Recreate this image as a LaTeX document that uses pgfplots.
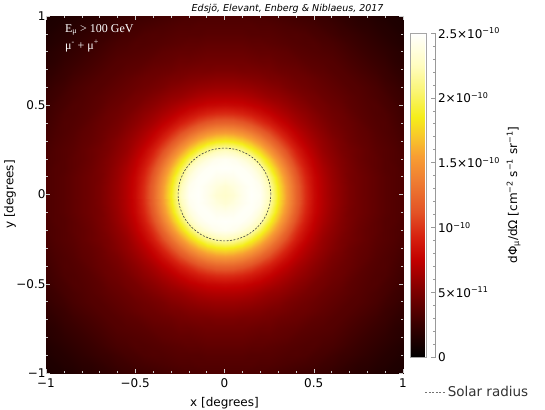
\documentclass[border=0pt]{standalone}
\usepackage{fontspec}
\setmainfont{DejaVu Sans}
\newfontfamily\timesfont{Liberation Serif}
\usepackage{pgfplots}
\usepackage{pgfplotstable}
\pgfplotsset{compat=1.18}

% hot-like colour scale
\pgfplotsset{colormap={sunhot}{rgb(0pt)=(0,0,0); rgb(10pt)=(0.22,0,0); rgb(20pt)=(0.48,0,0);
  rgb(30pt)=(0.76,0,0); rgb(37pt)=(0.84,0.13,0.06); rgb(45pt)=(0.89,0.33,0.15);
  rgb(55pt)=(0.94,0.5,0.2); rgb(62pt)=(0.97,0.62,0.2); rgb(68pt)=(0.97,0.78,0.17);
  rgb(74pt)=(0.96,0.93,0.1); rgb(82pt)=(0.98,0.96,0.45); rgb(90pt)=(1,0.99,0.75);
  rgb(100pt)=(1,1,1)}}

% flux in units of 1e-10 cm^-2 s^-1 sr^-1, one quadrant (x,y >= 0), 0.05 deg grid
\pgfplotstableread[row sep=\\]{
x y v\\
0 0 2.30\\ 0.05 0 2.33\\ 0.1 0 2.42\\ 0.15 0 2.48\\ 0.2 0 2.45\\ 0.25 0 2.25\\ 0.3 0 1.85\\ 0.35 0 1.52\\ 0.4 0 1.22\\ 0.45 0 0.98\\ 0.5 0 0.80\\ 0.55 0 0.69\\ 0.6 0 0.61\\ 0.65 0 0.55\\ 0.7 0 0.50\\ 0.75 0 0.46\\ 0.8 0 0.43\\ 0.85 0 0.40\\ 0.9 0 0.37\\ 0.95 0 0.35\\ 1 0 0.33\\
0 0.05 2.33\\ 0.05 0.05 2.37\\ 0.1 0.05 2.43\\ 0.15 0.05 2.47\\ 0.2 0.05 2.43\\ 0.25 0.05 2.21\\ 0.3 0.05 1.82\\ 0.35 0.05 1.50\\ 0.4 0.05 1.21\\ 0.45 0.05 0.97\\ 0.5 0.05 0.79\\ 0.55 0.05 0.69\\ 0.6 0.05 0.61\\ 0.65 0.05 0.55\\ 0.7 0.05 0.50\\ 0.75 0.05 0.46\\ 0.8 0.05 0.43\\ 0.85 0.05 0.40\\ 0.9 0.05 0.37\\ 0.95 0.05 0.35\\ 1 0.05 0.33\\
0 0.1 2.42\\ 0.05 0.1 2.43\\ 0.1 0.1 2.47\\ 0.15 0.1 2.46\\ 0.2 0.1 2.36\\ 0.25 0.1 2.10\\ 0.3 0.1 1.74\\ 0.35 0.1 1.44\\ 0.4 0.1 1.16\\ 0.45 0.1 0.94\\ 0.5 0.1 0.78\\ 0.55 0.1 0.68\\ 0.6 0.1 0.60\\ 0.65 0.1 0.54\\ 0.7 0.1 0.49\\ 0.75 0.1 0.46\\ 0.8 0.1 0.43\\ 0.85 0.1 0.40\\ 0.9 0.1 0.37\\ 0.95 0.1 0.35\\ 1 0.1 0.33\\
0 0.15 2.48\\ 0.05 0.15 2.47\\ 0.1 0.15 2.46\\ 0.15 0.15 2.40\\ 0.2 0.15 2.25\\ 0.25 0.15 1.92\\ 0.3 0.15 1.62\\ 0.35 0.15 1.34\\ 0.4 0.15 1.09\\ 0.45 0.15 0.89\\ 0.5 0.15 0.75\\ 0.55 0.15 0.66\\ 0.6 0.15 0.59\\ 0.65 0.15 0.53\\ 0.7 0.15 0.49\\ 0.75 0.15 0.45\\ 0.8 0.15 0.42\\ 0.85 0.15 0.39\\ 0.9 0.15 0.36\\ 0.95 0.15 0.35\\ 1 0.15 0.32\\
0 0.2 2.45\\ 0.05 0.2 2.43\\ 0.1 0.2 2.36\\ 0.15 0.2 2.25\\ 0.2 0.2 1.99\\ 0.25 0.2 1.72\\ 0.3 0.2 1.46\\ 0.35 0.2 1.21\\ 0.4 0.2 0.99\\ 0.45 0.2 0.83\\ 0.5 0.2 0.72\\ 0.55 0.2 0.63\\ 0.6 0.2 0.57\\ 0.65 0.2 0.52\\ 0.7 0.2 0.48\\ 0.75 0.2 0.44\\ 0.8 0.2 0.41\\ 0.85 0.2 0.39\\ 0.9 0.2 0.36\\ 0.95 0.2 0.34\\ 1 0.2 0.32\\
0 0.25 2.25\\ 0.05 0.25 2.21\\ 0.1 0.25 2.10\\ 0.15 0.25 1.92\\ 0.2 0.25 1.72\\ 0.25 0.25 1.50\\ 0.3 0.25 1.28\\ 0.35 0.25 1.08\\ 0.4 0.25 0.90\\ 0.45 0.25 0.77\\ 0.5 0.25 0.68\\ 0.55 0.25 0.60\\ 0.6 0.25 0.55\\ 0.65 0.25 0.50\\ 0.7 0.25 0.47\\ 0.75 0.25 0.44\\ 0.8 0.25 0.41\\ 0.85 0.25 0.38\\ 0.9 0.25 0.36\\ 0.95 0.25 0.34\\ 1 0.25 0.31\\
0 0.3 1.85\\ 0.05 0.3 1.82\\ 0.1 0.3 1.74\\ 0.15 0.3 1.62\\ 0.2 0.3 1.46\\ 0.25 0.3 1.28\\ 0.3 0.3 1.10\\ 0.35 0.3 0.94\\ 0.4 0.3 0.80\\ 0.45 0.3 0.71\\ 0.5 0.3 0.64\\ 0.55 0.3 0.58\\ 0.6 0.3 0.53\\ 0.65 0.3 0.49\\ 0.7 0.3 0.45\\ 0.75 0.3 0.42\\ 0.8 0.3 0.40\\ 0.85 0.3 0.37\\ 0.9 0.3 0.35\\ 0.95 0.3 0.33\\ 1 0.3 0.30\\
0 0.35 1.52\\ 0.05 0.35 1.50\\ 0.1 0.35 1.44\\ 0.15 0.35 1.34\\ 0.2 0.35 1.21\\ 0.25 0.35 1.08\\ 0.3 0.35 0.94\\ 0.35 0.35 0.82\\ 0.4 0.35 0.73\\ 0.45 0.35 0.66\\ 0.5 0.35 0.60\\ 0.55 0.35 0.55\\ 0.6 0.35 0.50\\ 0.65 0.35 0.47\\ 0.7 0.35 0.44\\ 0.75 0.35 0.41\\ 0.8 0.35 0.39\\ 0.85 0.35 0.36\\ 0.9 0.35 0.34\\ 0.95 0.35 0.32\\ 1 0.35 0.29\\
0 0.4 1.22\\ 0.05 0.4 1.21\\ 0.1 0.4 1.16\\ 0.15 0.4 1.09\\ 0.2 0.4 0.99\\ 0.25 0.4 0.90\\ 0.3 0.4 0.80\\ 0.35 0.4 0.73\\ 0.4 0.4 0.66\\ 0.45 0.4 0.61\\ 0.5 0.4 0.56\\ 0.55 0.4 0.52\\ 0.6 0.4 0.48\\ 0.65 0.4 0.45\\ 0.7 0.4 0.43\\ 0.75 0.4 0.40\\ 0.8 0.4 0.37\\ 0.85 0.4 0.35\\ 0.9 0.4 0.34\\ 0.95 0.4 0.31\\ 1 0.4 0.28\\
0 0.45 0.98\\ 0.05 0.45 0.97\\ 0.1 0.45 0.94\\ 0.15 0.45 0.89\\ 0.2 0.45 0.83\\ 0.25 0.45 0.77\\ 0.3 0.45 0.71\\ 0.35 0.45 0.66\\ 0.4 0.45 0.61\\ 0.45 0.45 0.57\\ 0.5 0.45 0.53\\ 0.55 0.45 0.49\\ 0.6 0.45 0.46\\ 0.65 0.45 0.44\\ 0.7 0.45 0.41\\ 0.75 0.45 0.38\\ 0.8 0.45 0.36\\ 0.85 0.45 0.34\\ 0.9 0.45 0.33\\ 0.95 0.45 0.30\\ 1 0.45 0.27\\
0 0.5 0.80\\ 0.05 0.5 0.79\\ 0.1 0.5 0.78\\ 0.15 0.5 0.75\\ 0.2 0.5 0.72\\ 0.25 0.5 0.68\\ 0.3 0.5 0.64\\ 0.35 0.5 0.60\\ 0.4 0.5 0.56\\ 0.45 0.5 0.53\\ 0.5 0.5 0.49\\ 0.55 0.5 0.47\\ 0.6 0.5 0.44\\ 0.65 0.5 0.42\\ 0.7 0.5 0.39\\ 0.75 0.5 0.37\\ 0.8 0.5 0.35\\ 0.85 0.5 0.34\\ 0.9 0.5 0.31\\ 0.95 0.5 0.29\\ 1 0.5 0.26\\
0 0.55 0.69\\ 0.05 0.55 0.69\\ 0.1 0.55 0.68\\ 0.15 0.55 0.66\\ 0.2 0.55 0.63\\ 0.25 0.55 0.60\\ 0.3 0.55 0.58\\ 0.35 0.55 0.55\\ 0.4 0.55 0.52\\ 0.45 0.55 0.49\\ 0.5 0.55 0.47\\ 0.55 0.55 0.44\\ 0.6 0.55 0.42\\ 0.65 0.55 0.40\\ 0.7 0.55 0.38\\ 0.75 0.55 0.36\\ 0.8 0.55 0.34\\ 0.85 0.55 0.32\\ 0.9 0.55 0.30\\ 0.95 0.55 0.27\\ 1 0.55 0.25\\
0 0.6 0.61\\ 0.05 0.6 0.61\\ 0.1 0.6 0.60\\ 0.15 0.6 0.59\\ 0.2 0.6 0.57\\ 0.25 0.6 0.55\\ 0.3 0.6 0.53\\ 0.35 0.6 0.50\\ 0.4 0.6 0.48\\ 0.45 0.6 0.46\\ 0.5 0.6 0.44\\ 0.55 0.6 0.42\\ 0.6 0.6 0.40\\ 0.65 0.6 0.38\\ 0.7 0.6 0.36\\ 0.75 0.6 0.35\\ 0.8 0.6 0.33\\ 0.85 0.6 0.31\\ 0.9 0.6 0.28\\ 0.95 0.6 0.26\\ 1 0.6 0.23\\
0 0.65 0.55\\ 0.05 0.65 0.55\\ 0.1 0.65 0.54\\ 0.15 0.65 0.53\\ 0.2 0.65 0.52\\ 0.25 0.65 0.50\\ 0.3 0.65 0.49\\ 0.35 0.65 0.47\\ 0.4 0.65 0.45\\ 0.45 0.65 0.44\\ 0.5 0.65 0.42\\ 0.55 0.65 0.40\\ 0.6 0.65 0.38\\ 0.65 0.65 0.36\\ 0.7 0.65 0.35\\ 0.75 0.65 0.33\\ 0.8 0.65 0.31\\ 0.85 0.65 0.29\\ 0.9 0.65 0.26\\ 0.95 0.65 0.24\\ 1 0.65 0.21\\
0 0.7 0.50\\ 0.05 0.7 0.50\\ 0.1 0.7 0.49\\ 0.15 0.7 0.49\\ 0.2 0.7 0.48\\ 0.25 0.7 0.47\\ 0.3 0.7 0.45\\ 0.35 0.7 0.44\\ 0.4 0.7 0.43\\ 0.45 0.7 0.41\\ 0.5 0.7 0.39\\ 0.55 0.7 0.38\\ 0.6 0.7 0.36\\ 0.65 0.7 0.35\\ 0.7 0.7 0.33\\ 0.75 0.7 0.31\\ 0.8 0.7 0.29\\ 0.85 0.7 0.27\\ 0.9 0.7 0.25\\ 0.95 0.7 0.22\\ 1 0.7 0.20\\
0 0.75 0.46\\ 0.05 0.75 0.46\\ 0.1 0.75 0.46\\ 0.15 0.75 0.45\\ 0.2 0.75 0.44\\ 0.25 0.75 0.44\\ 0.3 0.75 0.42\\ 0.35 0.75 0.41\\ 0.4 0.75 0.40\\ 0.45 0.75 0.38\\ 0.5 0.75 0.37\\ 0.55 0.75 0.36\\ 0.6 0.75 0.35\\ 0.65 0.75 0.33\\ 0.7 0.75 0.31\\ 0.75 0.75 0.29\\ 0.8 0.75 0.27\\ 0.85 0.75 0.25\\ 0.9 0.75 0.23\\ 0.95 0.75 0.20\\ 1 0.75 0.18\\
0 0.8 0.43\\ 0.05 0.8 0.43\\ 0.1 0.8 0.43\\ 0.15 0.8 0.42\\ 0.2 0.8 0.41\\ 0.25 0.8 0.41\\ 0.3 0.8 0.40\\ 0.35 0.8 0.39\\ 0.4 0.8 0.37\\ 0.45 0.8 0.36\\ 0.5 0.8 0.35\\ 0.55 0.8 0.34\\ 0.6 0.8 0.33\\ 0.65 0.8 0.31\\ 0.7 0.8 0.29\\ 0.75 0.8 0.27\\ 0.8 0.8 0.25\\ 0.85 0.8 0.23\\ 0.9 0.8 0.21\\ 0.95 0.8 0.19\\ 1 0.8 0.17\\
0 0.85 0.40\\ 0.05 0.85 0.40\\ 0.1 0.85 0.40\\ 0.15 0.85 0.39\\ 0.2 0.85 0.39\\ 0.25 0.85 0.38\\ 0.3 0.85 0.37\\ 0.35 0.85 0.36\\ 0.4 0.85 0.35\\ 0.45 0.85 0.34\\ 0.5 0.85 0.34\\ 0.55 0.85 0.32\\ 0.6 0.85 0.31\\ 0.65 0.85 0.29\\ 0.7 0.85 0.27\\ 0.75 0.85 0.25\\ 0.8 0.85 0.23\\ 0.85 0.85 0.21\\ 0.9 0.85 0.19\\ 0.95 0.85 0.17\\ 1 0.85 0.15\\
0 0.9 0.37\\ 0.05 0.9 0.37\\ 0.1 0.9 0.37\\ 0.15 0.9 0.36\\ 0.2 0.9 0.36\\ 0.25 0.9 0.36\\ 0.3 0.9 0.35\\ 0.35 0.9 0.34\\ 0.4 0.9 0.34\\ 0.45 0.9 0.33\\ 0.5 0.9 0.31\\ 0.55 0.9 0.30\\ 0.6 0.9 0.28\\ 0.65 0.9 0.26\\ 0.7 0.9 0.25\\ 0.75 0.9 0.23\\ 0.8 0.9 0.21\\ 0.85 0.9 0.19\\ 0.9 0.9 0.17\\ 0.95 0.9 0.16\\ 1 0.9 0.14\\
0 0.95 0.35\\ 0.05 0.95 0.35\\ 0.1 0.95 0.35\\ 0.15 0.95 0.35\\ 0.2 0.95 0.34\\ 0.25 0.95 0.34\\ 0.3 0.95 0.33\\ 0.35 0.95 0.32\\ 0.4 0.95 0.31\\ 0.45 0.95 0.30\\ 0.5 0.95 0.29\\ 0.55 0.95 0.27\\ 0.6 0.95 0.26\\ 0.65 0.95 0.24\\ 0.7 0.95 0.22\\ 0.75 0.95 0.20\\ 0.8 0.95 0.19\\ 0.85 0.95 0.17\\ 0.9 0.95 0.16\\ 0.95 0.95 0.14\\ 1 0.95 0.13\\
0 1 0.33\\ 0.05 1 0.33\\ 0.1 1 0.33\\ 0.15 1 0.32\\ 0.2 1 0.32\\ 0.25 1 0.31\\ 0.3 1 0.30\\ 0.35 1 0.29\\ 0.4 1 0.28\\ 0.45 1 0.27\\ 0.5 1 0.26\\ 0.55 1 0.25\\ 0.6 1 0.23\\ 0.65 1 0.21\\ 0.7 1 0.20\\ 0.75 1 0.18\\ 0.8 1 0.17\\ 0.85 1 0.15\\ 0.9 1 0.14\\ 0.95 1 0.13\\ 1 1 0.12\\
}\quadrant

\begin{document}
\begin{tikzpicture}
\begin{axis}[
  scale only axis, width=357pt, height=357pt,
  xmin=-1, xmax=1, ymin=-1, ymax=1,
  axis line style={draw=none},
  axis on top,
  xtick={-1,-0.5,0,0.5,1}, xticklabels={−1,−0.5,0,0.5,1},
  ytick={-1,-0.5,0,0.5,1}, yticklabels={−1,−0.5,0,0.5,1},
  minor tick num=4,
  tick align=inside,
  major tick length=4pt, minor tick length=2pt,
  tick style={gray!40, line width=0.4pt},
  ticklabel style={font=\fontsize{12}{14}\selectfont},
  yticklabel style={xshift=3pt},
  xticklabel style={yshift=-2pt},
  xlabel={x [degrees]}, ylabel={y [degrees]},
  label style={font=\fontsize{12}{14}\selectfont},
  xlabel style={at={(0.5,-0.084)}, anchor=center},
  ylabel style={at={(-0.101,0.5)}, anchor=center},
  title={Edsjö, Elevant, Enberg \& Niblaeus, 2017},
  title style={at={(1,1)}, anchor=base east, yshift=-2pt, xshift=-16pt, font=\itshape\fontsize{9.5}{11}\selectfont},
  colormap name=sunhot,
  point meta min=0, point meta max=2.5,
  colorbar,
  colorbar style={
    at={(parent axis.north east)}, anchor=north west,
    xshift=-1pt, yshift=-17pt,
    width=16pt, height=324pt,
    axis x line=none, axis y line*=right, axis y line shift=9pt,
    y axis line style={gray!80, line width=0.5pt},
    ytick={0,0.5,1,1.5,2,2.5},
    yticklabels={0, 5×10\textsuperscript{−11}, 10\textsuperscript{−10}, 1.5×10\textsuperscript{−10}, 2×10\textsuperscript{−10}, 2.5×10\textsuperscript{−10}},
    minor y tick num=4,
    tick align=inside,
    major tick length=5pt, minor tick length=3pt,
    tick style={gray!80, line width=0.5pt},
    yticklabel style={font=\fontsize{12}{14}\selectfont, xshift=-1pt},
    ylabel={dΦ\textsubscript{μ}/dΩ [cm\textsuperscript{−2} s\textsuperscript{−1} sr\textsuperscript{−1}]},
    ylabel style={font=\fontsize{12}{14}\selectfont},
    after end axis/.code={\draw[gray!70, line width=0.5pt] (rel axis cs:0,0) rectangle (rel axis cs:1,1);},
  },
  legend style={at={(1.0616,-0.053)}, anchor=west, draw=none, fill=none, inner sep=0pt,
    font=\fontsize{13.5}{15}\selectfont, text=black!80},
]
\addplot[surf, shader=interp, mesh/cols=21, point meta=explicit, forget plot]
  table[x=x, y=y, meta=v]{\quadrant};
\addplot[surf, shader=interp, mesh/cols=21, point meta=explicit, forget plot]
  table[x expr=-\thisrow{x}, y=y, meta=v]{\quadrant};
\addplot[surf, shader=interp, mesh/cols=21, point meta=explicit, forget plot]
  table[x=x, y expr=-\thisrow{y}, meta=v]{\quadrant};
\addplot[surf, shader=interp, mesh/cols=21, point meta=explicit, forget plot]
  table[x expr=-\thisrow{x}, y expr=-\thisrow{y}, meta=v]{\quadrant};
% solar radius, 0.26 deg
\addplot[black!75, line width=0.6pt, dash pattern=on 2pt off 1.5pt, smooth,
  legend image code/.code={\draw[##1, black!55] (0pt,0pt) -- (20pt,0pt);}]
  coordinates {(0.26,0) (0.2511,0.0673) (0.2252,0.13) (0.1838,0.1838) (0.13,0.2252)
  (0.0673,0.2511) (0,0.26) (-0.0673,0.2511) (-0.13,0.2252) (-0.1838,0.1838)
  (-0.2252,0.13) (-0.2511,0.0673) (-0.26,0) (-0.2511,-0.0673) (-0.2252,-0.13)
  (-0.1838,-0.1838) (-0.13,-0.2252) (-0.0673,-0.2511) (0,-0.26) (0.0673,-0.2511)
  (0.13,-0.2252) (0.1838,-0.1838) (0.2252,-0.13) (0.2511,-0.0673) (0.26,0)};
\addlegendentry{Solar radius}
\node[anchor=west, inner sep=0pt, text=white, font=\timesfont\fontsize{12}{14}\selectfont] at (axis cs:-0.894,0.922) {E\textsubscript{μ} > 100 GeV};
\node[anchor=west, inner sep=0pt, text=white, font=\timesfont\fontsize{12}{14}\selectfont] at (axis cs:-0.894,0.832) {μ\textsuperscript{-} + μ\textsuperscript{+}};
\end{axis}
\pgfresetboundingbox
\path ([shift={(-46pt,-36pt)}]current axis.south west) rectangle ([shift={(142pt,16pt)}]current axis.north east);
\end{tikzpicture}
\end{document}
